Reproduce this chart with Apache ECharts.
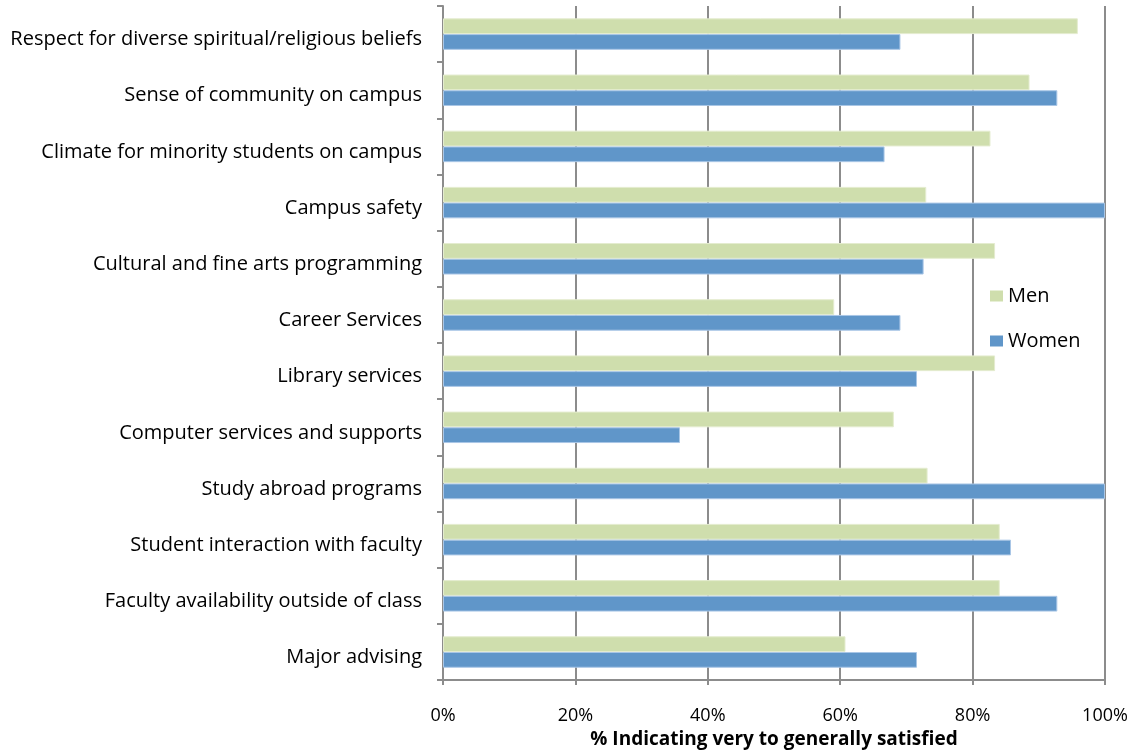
<!DOCTYPE html>
<html>
<head>
<meta charset="utf-8">
<script src="https://cdn.jsdelivr.net/npm/echarts@6/dist/echarts.min.js"></script>
<style>
  html, body { margin: 0; padding: 0; background: #fff; }
  #chart { width: 1135px; height: 754px; }
</style>
</head>
<body>
<div id="chart"></div>
<script>
// Categories listed bottom to top, as the category axis runs upward
const categories = [
  'Major advising',
  'Faculty availability outside of class',
  'Student interaction with faculty',
  'Study abroad programs',
  'Computer services and supports',
  'Library services',
  'Career Services',
  'Cultural and fine arts programming',
  'Campus safety',
  'Climate for minority students on campus',
  'Sense of community on campus',
  'Respect for diverse spiritual/religious beliefs'
];

// Percent satisfied, same order as categories
const menValues   = [60.8, 84.1, 84.1, 73.2, 68.1, 83.4, 59.1, 83.4, 73.0, 82.7, 88.6, 95.9];
const womenValues = [71.6, 92.8, 85.8, 100, 35.8, 71.6, 69.1, 72.6, 100, 66.7, 92.8, 69.1];

const xTicks = [0, 20, 40, 60, 80, 100];
const xTitle = '% Indicating very to generally satisfied';

const FONT = '"Open Sans", Lato, sans-serif';
const chart = echarts.init(document.getElementById('chart'));

chart.setOption({
  animation: false,
  backgroundColor: '#ffffff',
  grid: { left: 443, right: 30, top: 6, bottom: 65, containLabel: false },
  legend: {
    data: ['Men', 'Women'],
    orient: 'vertical',
    left: 985,
    top: 281,
    itemWidth: 13,
    itemHeight: 11,
    itemGap: 25,
    itemStyle: { borderWidth: 0 },
    textStyle: { fontFamily: FONT, fontSize: 20, color: '#000' },
    icon: 'rect'
  },
  xAxis: {
    type: 'value',
    min: xTicks[0],
    max: xTicks[xTicks.length - 1],
    interval: 20,
    axisLine: { show: true, lineStyle: { color: '#8c8c8c', width: 2 } },
    axisTick: { show: true, length: 5, lineStyle: { color: '#8c8c8c', width: 2 } },
    splitLine: { show: true, lineStyle: { color: '#8c8c8c', width: 2 } },
    axisLabel: {
      formatter: v => v + '%',
      fontFamily: FONT, fontSize: 18, color: '#000', margin: 27
    },
    name: xTitle,
    nameLocation: 'middle',
    nameGap: 48,
    nameTextStyle: { fontFamily: FONT, fontSize: 19, fontWeight: 'bold', color: '#000' }
  },
  yAxis: {
    type: 'category',
    data: categories,
    axisLine: { show: true, lineStyle: { color: '#8c8c8c', width: 2 } },
    axisTick: { show: true, length: 6, lineStyle: { color: '#8c8c8c', width: 2 } },
    axisLabel: {
      fontFamily: FONT, fontSize: 20, color: '#000', margin: 21,
      verticalAlign: 'top', lineHeight: 11
    }
  },
  series: [
    {
      name: 'Men',
      type: 'bar',
      data: menValues,
      barGap: '0%',
      barCategoryGap: '44%',
      itemStyle: { color: '#cfdead', borderColor: '#e4eccf', borderWidth: 1 }
    },
    {
      name: 'Women',
      type: 'bar',
      data: womenValues,
      barGap: '0%',
      barCategoryGap: '44%',
      itemStyle: { color: '#6096c9', borderColor: '#a9c6e6', borderWidth: 1 }
    }
  ]
});
</script>
</body>
</html>
